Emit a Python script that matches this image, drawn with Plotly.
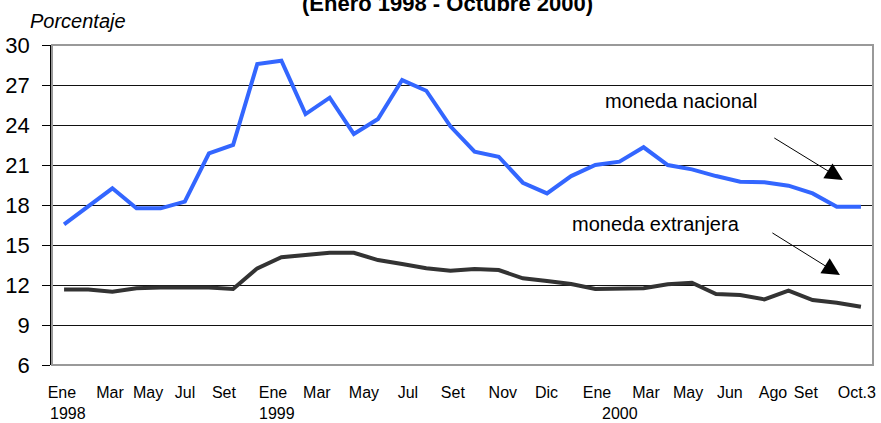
import plotly.graph_objects as go

# Monthly data, Jan 1998 .. Oct 2000 (34 months)
months = list(range(34))
moneda_nacional = [16.55, 17.87, 19.25, 17.75, 17.75, 18.25, 21.87, 22.5, 28.57, 28.82,
                   24.82, 26.05, 23.32, 24.45, 27.37, 26.57, 23.9, 22.0, 21.62, 19.67,
                   18.87, 20.17, 21.0, 21.25, 22.33, 21.0, 20.67, 20.17, 19.75, 19.7,
                   19.45, 18.87, 17.87, 17.87]
moneda_extranjera = [11.67, 11.67, 11.5, 11.75, 11.82, 11.82, 11.82, 11.7, 13.25, 14.08,
                     14.25, 14.42, 14.42, 13.87, 13.57, 13.25, 13.07, 13.2, 13.12, 12.5,
                     12.3, 12.07, 11.7, 11.75, 11.75, 12.05, 12.17, 11.32, 11.25, 10.92,
                     11.57, 10.87, 10.67, 10.37]

tick_labels = ["Ene", "Mar", "May", "Jul", "Set", "Ene", "Mar", "May", "Jul", "Set",
               "Nov", "Dic", "Ene", "Mar", "May", "Jun", "Ago", "Set", "Oct.3"]
tick_pos = [-0.09, 1.90, 3.48, 5.01, 6.62, 8.65, 10.47, 12.42, 14.24, 16.10,
            18.17, 19.98, 22.07, 24.10, 25.84, 27.57, 29.36, 30.72, 32.83]
year_labels = ["1998", "1999", "2000"]
year_pos = [-0.005, 0.2497, 0.6675]   # left edges, fraction of plot width

FONT = "Arial, Liberation Sans, sans-serif"

fig = go.Figure()
fig.add_trace(go.Scatter(x=months, y=moneda_nacional, mode="lines",
                         line=dict(color="#3366FF", width=4), showlegend=False))
fig.add_trace(go.Scatter(x=months, y=moneda_extranjera, mode="lines",
                         line=dict(color="#333333", width=4), showlegend=False))

annotations = [
    dict(text="<b>(Enero 1998 - Octubre 2000)</b>", xref="paper", yref="paper",
         x=0.482, y=1.131, xanchor="center", yanchor="middle", showarrow=False,
         font=dict(size=22, color="black", family=FONT)),
    dict(text="<i>Porcentaje</i>", xref="paper", yref="paper",
         x=0.0317, y=1.075, xanchor="center", yanchor="middle", showarrow=False,
         font=dict(size=20, color="black", family=FONT)),
    dict(text="moneda nacional", x=25.55, y=25.8, showarrow=False,
         font=dict(size=20, color="black", family=FONT)),
    dict(text="moneda extranjera", x=24.51, y=16.57, showarrow=False,
         font=dict(size=20, color="black", family=FONT)),
    dict(text="", x=32.25, y=19.87, ax=-70, ay=-43, showarrow=True,
         arrowhead=2, arrowsize=3.5, arrowwidth=1, arrowcolor="black", standoff=0),
    dict(text="", x=32.13, y=12.75, ax=-69, ay=-43, showarrow=True,
         arrowhead=2, arrowsize=3.5, arrowwidth=1, arrowcolor="black", standoff=0),
]
for lab, pos in zip(year_labels, year_pos):
    annotations.append(dict(text=lab, x=pos, xref="paper", yref="paper", y=-0.152,
                            xanchor="left", yanchor="middle", showarrow=False,
                            font=dict(size=16, color="black", family=FONT)))

fig.update_layout(
    width=881, height=423,
    margin=dict(l=52, r=8, t=45, b=58),
    paper_bgcolor="white", plot_bgcolor="white",
    font=dict(family=FONT, color="black"),
    annotations=annotations,
    shapes=[dict(type="rect", xref="paper", yref="paper", x0=0, x1=1, y0=0, y1=1,
                 line=dict(color="#999999", width=2), layer="above")],
    xaxis=dict(range=[-0.5, 33.5], tickmode="array", tickvals=tick_pos,
               ticktext=tick_labels, showgrid=False, zeroline=False,
               ticks="", tickfont=dict(size=16, color="black", family=FONT),
               ticklabelstandoff=16,
               showline=False, automargin=False),
    yaxis=dict(range=[6, 30], tickmode="linear", tick0=6, dtick=3,
               showgrid=True, gridcolor="#111111", gridwidth=1, zeroline=False,
               ticks="outside", ticklen=8, tickcolor="black", tickwidth=1,
               showline=True, linecolor="black", linewidth=1.5,
               ticklabelstandoff=8, automargin=False,
               tickfont=dict(size=22, color="black", family=FONT)),
)

fig.write_html("out.html", config={"displayModeBar": False},
               post_script="document.body.style.margin='0';document.body.style.overflow='hidden';")
